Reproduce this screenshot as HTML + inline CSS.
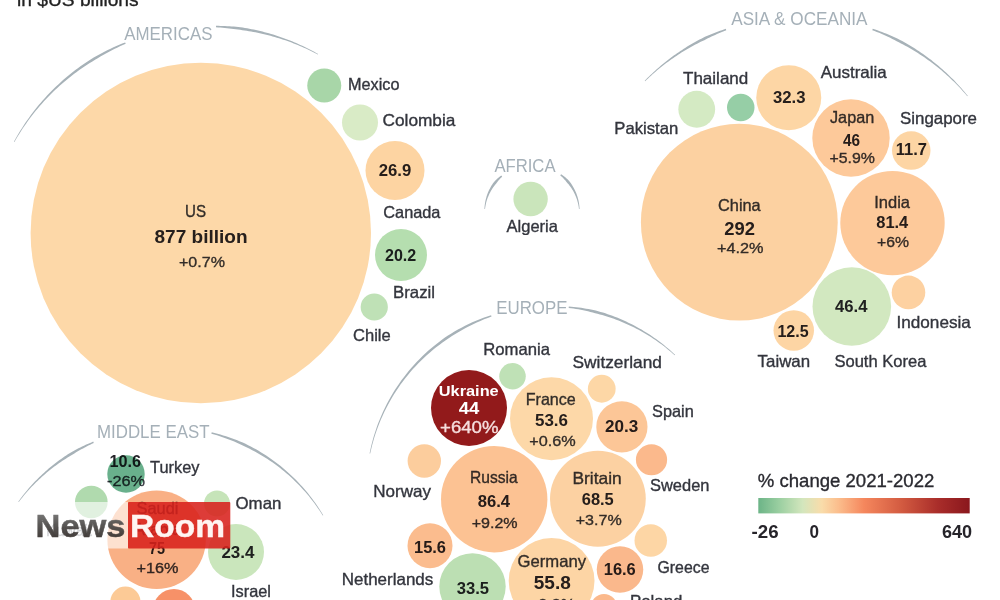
<!DOCTYPE html>
<html><head><meta charset="utf-8"><title>Military spending</title>
<style>
html,body{margin:0;padding:0;background:#fff;}
body{width:1000px;height:600px;overflow:hidden;font-family:"Liberation Sans",sans-serif;}
svg{display:block;font-family:"Liberation Sans",sans-serif;}
</style></head><body>
<svg width="1000" height="600" viewBox="0 0 1000 600" style="filter:blur(0.45px)">
<defs>
<linearGradient id="lg" x1="0" x2="1" y1="0" y2="0">
<stop offset="0" stop-color="#6cb487"/>
<stop offset="0.10" stop-color="#9bcfa1"/>
<stop offset="0.21" stop-color="#d3e6bd"/>
<stop offset="0.30" stop-color="#f9dcaa"/>
<stop offset="0.38" stop-color="#fbbd8c"/>
<stop offset="0.50" stop-color="#f5875d"/>
<stop offset="0.68" stop-color="#d25a40"/>
<stop offset="0.85" stop-color="#a92d2a"/>
<stop offset="1" stop-color="#8a171d"/>
</linearGradient>
<linearGradient id="ng" x1="0" x2="0" y1="0" y2="1">
<stop offset="0" stop-color="#7a7a7a"/>
<stop offset="0.45" stop-color="#4a4846"/>
<stop offset="1" stop-color="#241c19"/>
</linearGradient>
</defs>
<rect width="1000" height="600" fill="#ffffff"/>

<g fill="#a7b2b8">
<path d="M125.15 42.40L122.20 43.57L119.27 44.79L116.35 46.04L113.46 47.34L110.58 48.67L107.72 50.05L104.87 51.47L102.05 52.93L99.25 54.43L96.47 55.97L93.71 57.55L90.97 59.17L88.30 60.89L85.65 62.65L83.03 64.45L80.44 66.29L77.87 68.16L75.33 70.06L72.81 72.01L70.32 73.98L67.87 75.99L65.44 78.04L63.04 80.12L60.67 82.23L58.33 84.38L56.02 86.56L53.74 88.77L51.50 91.01L49.28 93.29L47.10 95.59L44.96 97.93L42.84 100.29L40.76 102.69L38.72 105.11L36.70 107.56L34.73 110.04L32.79 112.54L30.88 115.08L29.01 117.64L27.18 120.22L25.39 122.83L23.63 125.47L21.91 128.13L20.22 130.81L18.58 133.52L16.97 136.24L15.41 138.99L13.88 141.77L14.40 142.05L15.97 139.32L17.59 136.61L19.24 133.92L20.92 131.25L22.65 128.61L24.41 125.99L26.21 123.40L28.05 120.84L29.92 118.30L31.82 115.79L33.76 113.30L35.74 110.85L37.75 108.42L39.79 106.02L41.87 103.65L43.98 101.31L46.12 99.00L48.30 96.73L50.50 94.48L52.74 92.26L55.01 90.08L57.31 87.93L59.64 85.81L62.00 83.73L64.38 81.68L66.80 79.66L69.24 77.68L71.71 75.73L74.21 73.82L76.73 71.95L79.28 70.11L81.86 68.30L84.46 66.54L87.08 64.81L89.73 63.11L92.40 61.46L95.05 59.77L97.73 58.13L100.43 56.52L103.15 54.95L105.90 53.41L108.67 51.92L111.46 50.46L114.27 49.04L117.10 47.67L119.95 46.33L122.82 45.03L125.71 43.77Z"/>
<path d="M216.00 25.84L218.23 25.86L220.47 25.90L222.70 25.96L224.93 26.05L227.16 26.16L229.39 26.29L231.61 26.44L233.84 26.62L236.07 26.82L238.29 27.04L240.52 27.28L242.74 27.54L244.94 27.91L247.14 28.29L249.34 28.70L251.53 29.13L253.72 29.58L255.91 30.06L258.09 30.55L260.26 31.07L262.43 31.61L264.59 32.17L266.75 32.75L268.90 33.35L271.04 33.97L273.18 34.62L275.31 35.28L277.43 35.97L279.55 36.68L281.65 37.41L283.76 38.16L285.85 38.93L287.93 39.72L290.01 40.53L292.08 41.36L294.14 42.21L296.19 43.08L298.23 43.98L300.27 44.89L302.29 45.82L304.30 46.78L306.31 47.75L308.30 48.74L310.28 49.75L312.26 50.78L314.22 51.83L316.17 52.90L318.11 53.99L317.83 54.51L315.86 53.48L313.89 52.46L311.91 51.47L309.91 50.49L307.91 49.54L305.90 48.60L303.88 47.69L301.85 46.79L299.81 45.92L297.77 45.06L295.72 44.23L293.65 43.41L291.58 42.62L289.51 41.85L287.42 41.10L285.33 40.37L283.23 39.66L281.13 38.97L279.02 38.30L276.90 37.65L274.78 37.03L272.65 36.42L270.51 35.84L268.37 35.28L266.23 34.74L264.08 34.22L261.92 33.72L259.76 33.24L257.60 32.79L255.43 32.36L253.26 31.95L251.08 31.56L248.90 31.19L246.72 30.84L244.53 30.52L242.34 30.21L240.16 29.85L237.98 29.51L235.79 29.20L233.60 28.90L231.40 28.63L229.21 28.38L227.01 28.15L224.80 27.94L222.60 27.75L220.39 27.59L218.18 27.44L215.96 27.32Z"/>
<path d="M725.76 28.83L723.84 29.47L721.93 30.13L720.02 30.81L718.12 31.50L716.22 32.22L714.33 32.95L712.45 33.70L710.57 34.46L708.70 35.25L706.84 36.05L704.98 36.87L703.13 37.70L701.32 38.63L699.53 39.57L697.74 40.53L695.96 41.50L694.19 42.49L692.43 43.50L690.68 44.52L688.94 45.56L687.21 46.62L685.49 47.69L683.78 48.78L682.08 49.88L680.39 51.00L678.71 52.13L677.04 53.28L675.39 54.44L673.74 55.62L672.10 56.81L670.48 58.02L668.87 59.24L667.27 60.48L665.68 61.74L664.10 63.00L662.54 64.28L660.98 65.58L659.44 66.89L657.92 68.21L656.40 69.55L654.90 70.90L653.41 72.27L651.93 73.65L650.47 75.04L649.01 76.45L647.58 77.86L646.15 79.30L644.74 80.74L645.16 81.16L646.61 79.76L648.07 78.38L649.54 77.00L651.03 75.65L652.53 74.30L654.04 72.97L655.56 71.66L657.10 70.36L658.64 69.07L660.20 67.80L661.77 66.54L663.35 65.30L664.94 64.07L666.54 62.85L668.16 61.66L669.78 60.47L671.42 59.30L673.06 58.15L674.72 57.02L676.38 55.89L678.06 54.79L679.75 53.70L681.44 52.62L683.15 51.56L684.86 50.52L686.59 49.50L688.32 48.49L690.07 47.49L691.82 46.51L693.58 45.55L695.35 44.61L697.12 43.68L698.91 42.77L700.70 41.87L702.51 40.99L704.32 40.13L706.10 39.21L707.89 38.31L709.69 37.43L711.50 36.56L713.32 35.71L715.14 34.88L716.98 34.06L718.82 33.26L720.67 32.47L722.52 31.71L724.39 30.96L726.26 30.22Z"/>
<path d="M872.77 28.73L875.10 29.52L877.41 30.33L879.72 31.18L882.02 32.04L884.31 32.94L886.59 33.85L888.86 34.80L891.12 35.77L893.37 36.76L895.61 37.79L897.83 38.83L900.05 39.90L902.21 41.07L904.37 42.26L906.51 43.48L908.63 44.72L910.74 45.98L912.84 47.27L914.92 48.57L916.99 49.91L919.04 51.26L921.07 52.64L923.09 54.04L925.09 55.46L927.08 56.91L929.05 58.38L931.01 59.87L932.94 61.38L934.86 62.91L936.76 64.46L938.65 66.04L940.51 67.63L942.36 69.25L944.19 70.88L946.00 72.54L947.79 74.22L949.56 75.91L951.32 77.63L953.05 79.36L954.76 81.12L956.45 82.89L958.13 84.68L959.78 86.49L961.41 88.32L963.02 90.17L964.61 92.03L966.18 93.91L967.73 95.81L967.27 96.19L965.68 94.33L964.08 92.49L962.45 90.68L960.80 88.87L959.13 87.09L957.44 85.33L955.73 83.59L954.01 81.86L952.26 80.16L950.50 78.48L948.71 76.81L946.91 75.17L945.09 73.54L943.25 71.94L941.40 70.36L939.53 68.80L937.64 67.26L935.73 65.74L933.81 64.25L931.87 62.77L929.91 61.32L927.94 59.89L925.95 58.48L923.95 57.10L921.93 55.74L919.90 54.40L917.85 53.08L915.79 51.79L913.71 50.52L911.62 49.28L909.52 48.05L907.40 46.85L905.27 45.68L903.13 44.53L900.98 43.40L898.81 42.30L896.67 41.15L894.51 40.03L892.34 38.93L890.16 37.85L887.96 36.80L885.76 35.77L883.54 34.77L881.31 33.79L879.07 32.84L876.81 31.91L874.55 31.01L872.28 30.13Z"/>
<path d="M501.23 175.47L500.58 175.96L499.94 176.45L499.31 176.95L498.68 177.47L498.06 178.00L497.45 178.54L496.85 179.08L496.26 179.64L495.68 180.21L495.10 180.79L494.54 181.38L493.98 181.98L493.50 182.64L493.03 183.31L492.57 183.98L492.12 184.66L491.69 185.35L491.26 186.05L490.85 186.75L490.45 187.46L490.06 188.17L489.68 188.89L489.32 189.62L488.97 190.35L488.63 191.08L488.30 191.83L487.99 192.57L487.69 193.32L487.40 194.08L487.13 194.84L486.86 195.61L486.61 196.37L486.38 197.15L486.16 197.92L485.95 198.70L485.75 199.48L485.57 200.26L485.40 201.05L485.24 201.84L485.10 202.63L484.97 203.42L484.85 204.22L484.75 205.01L484.66 205.81L484.58 206.61L484.52 207.40L484.47 208.20L484.43 209.00L485.02 209.05L485.12 208.26L485.22 207.48L485.34 206.70L485.48 205.92L485.62 205.15L485.78 204.38L485.95 203.61L486.14 202.85L486.33 202.09L486.54 201.33L486.76 200.58L487.00 199.83L487.24 199.09L487.50 198.35L487.77 197.61L488.06 196.89L488.35 196.16L488.66 195.44L488.98 194.73L489.31 194.03L489.65 193.33L490.00 192.63L490.37 191.94L490.74 191.26L491.13 190.59L491.53 189.92L491.94 189.26L492.36 188.61L492.79 187.96L493.23 187.33L493.68 186.70L494.14 186.07L494.62 185.46L495.10 184.86L495.59 184.26L496.09 183.67L496.54 183.04L497.00 182.42L497.47 181.80L497.95 181.20L498.44 180.60L498.95 180.00L499.46 179.42L499.98 178.84L500.52 178.27L501.06 177.71L501.62 177.16L502.18 176.62Z"/>
<path d="M561.16 174.19L561.86 174.67L562.55 175.16L563.24 175.67L563.92 176.19L564.59 176.72L565.25 177.26L565.90 177.82L566.54 178.38L567.17 178.96L567.79 179.55L568.41 180.16L569.01 180.77L569.54 181.45L570.06 182.13L570.57 182.82L571.06 183.53L571.54 184.24L572.01 184.95L572.46 185.68L572.90 186.41L573.33 187.15L573.75 187.90L574.15 188.65L574.54 189.41L574.91 190.18L575.27 190.95L575.62 191.73L575.95 192.51L576.27 193.30L576.57 194.10L576.86 194.90L577.14 195.70L577.40 196.51L577.65 197.32L577.88 198.14L578.10 198.95L578.30 199.78L578.49 200.60L578.67 201.43L578.82 202.26L578.97 203.09L579.10 203.93L579.21 204.76L579.31 205.60L579.40 206.44L579.47 207.28L579.52 208.12L579.57 208.96L578.97 209.00L578.87 208.18L578.76 207.36L578.64 206.54L578.49 205.72L578.34 204.91L578.17 204.10L577.98 203.29L577.79 202.49L577.57 201.69L577.35 200.89L577.11 200.10L576.86 199.32L576.59 198.54L576.31 197.77L576.01 197.00L575.71 196.23L575.39 195.48L575.05 194.73L574.71 193.98L574.35 193.24L573.97 192.51L573.59 191.79L573.19 191.07L572.78 190.37L572.36 189.66L571.93 188.97L571.48 188.29L571.02 187.61L570.55 186.94L570.07 186.28L569.58 185.64L569.08 184.99L568.57 184.36L568.04 183.74L567.51 183.13L566.96 182.53L566.46 181.88L565.96 181.25L565.44 180.62L564.91 180.00L564.36 179.39L563.81 178.78L563.25 178.19L562.67 177.61L562.08 177.03L561.49 176.47L560.88 175.92L560.26 175.37Z"/>
<path d="M491.08 315.15L487.27 316.42L483.48 317.79L479.73 319.23L476.00 320.76L472.31 322.36L468.66 324.05L465.04 325.82L461.46 327.66L457.92 329.59L454.42 331.59L450.97 333.67L447.56 335.82L444.24 338.11L440.97 340.48L437.76 342.91L434.60 345.41L431.50 347.98L428.45 350.62L425.46 353.32L422.54 356.09L419.67 358.92L416.87 361.81L414.13 364.76L411.45 367.77L408.85 370.84L406.31 373.96L403.83 377.13L401.43 380.36L399.10 383.64L396.85 386.97L394.66 390.34L392.55 393.77L390.52 397.23L388.56 400.74L386.68 404.29L384.88 407.89L383.15 411.51L381.51 415.18L379.94 418.88L378.46 422.61L377.06 426.37L375.74 430.16L374.51 433.98L373.35 437.82L372.29 441.69L371.30 445.58L370.41 449.49L369.59 453.42L370.17 453.54L371.04 449.63L371.99 445.75L373.03 441.89L374.15 438.06L375.35 434.25L376.64 430.47L378.00 426.72L379.45 423.00L380.98 419.31L382.59 415.66L384.27 412.04L386.04 408.46L387.88 404.92L389.80 401.43L391.79 397.97L393.86 394.56L396.00 391.20L398.21 387.89L400.50 384.62L402.85 381.41L405.28 378.25L407.77 375.14L410.33 372.09L412.95 369.09L415.64 366.15L418.39 363.28L421.20 360.46L424.08 357.71L427.01 355.02L430.00 352.39L433.04 349.83L436.14 347.34L439.29 344.92L442.50 342.56L445.75 340.28L449.05 338.07L452.36 335.86L455.71 333.73L459.11 331.67L462.56 329.68L466.05 327.77L469.58 325.93L473.15 324.17L476.76 322.49L480.41 320.88L484.09 319.36L487.80 317.92L491.55 316.55Z"/>
<path d="M568.81 306.41L571.28 306.63L573.75 306.88L576.22 307.16L578.68 307.48L581.14 307.83L583.59 308.21L586.04 308.63L588.49 309.08L590.92 309.56L593.36 310.08L595.78 310.62L598.20 311.20L600.59 311.89L602.97 312.62L605.34 313.37L607.70 314.16L610.05 314.97L612.39 315.82L614.71 316.70L617.03 317.61L619.33 318.55L621.61 319.53L623.88 320.53L626.14 321.56L628.39 322.63L630.62 323.72L632.83 324.84L635.03 325.99L637.21 327.17L639.38 328.38L641.53 329.62L643.66 330.89L645.78 332.19L647.87 333.51L649.95 334.86L652.01 336.24L654.05 337.65L656.07 339.08L658.07 340.54L660.05 342.03L662.02 343.54L663.96 345.08L665.88 346.65L667.77 348.24L669.65 349.85L671.50 351.49L673.33 353.16L675.14 354.85L674.74 355.28L672.90 353.64L671.03 352.03L669.15 350.44L667.24 348.88L665.32 347.34L663.37 345.83L661.41 344.34L659.42 342.88L657.42 341.45L655.39 340.05L653.35 338.67L651.29 337.32L649.22 336.00L647.12 334.71L645.01 333.45L642.89 332.21L640.74 331.00L638.58 329.83L636.41 328.68L634.22 327.56L632.02 326.47L629.80 325.41L627.57 324.38L625.32 323.38L623.06 322.41L620.79 321.48L618.51 320.57L616.22 319.69L613.91 318.85L611.60 318.03L609.27 317.25L606.94 316.50L604.59 315.78L602.24 315.09L599.87 314.44L597.50 313.81L595.14 313.14L592.77 312.50L590.40 311.90L588.01 311.32L585.61 310.78L583.21 310.27L580.80 309.79L578.39 309.34L575.96 308.93L573.53 308.55L571.10 308.20L568.66 307.89Z"/>
<path d="M93.21 441.62L91.33 442.39L89.47 443.17L87.61 443.98L85.76 444.81L83.92 445.66L82.09 446.52L80.27 447.41L78.45 448.32L76.65 449.25L74.86 450.20L73.07 451.17L71.30 452.15L69.58 453.23L67.87 454.33L66.17 455.44L64.49 456.57L62.82 457.72L61.16 458.89L59.51 460.07L57.88 461.28L56.26 462.50L54.66 463.74L53.07 464.99L51.49 466.27L49.93 467.56L48.38 468.87L46.85 470.19L45.33 471.53L43.83 472.89L42.34 474.26L40.87 475.65L39.41 477.05L37.97 478.47L36.54 479.91L35.13 481.36L33.74 482.83L32.37 484.31L31.01 485.81L29.66 487.32L28.34 488.84L27.03 490.38L25.73 491.94L24.46 493.50L23.20 495.09L21.96 496.68L20.74 498.29L19.54 499.91L18.35 501.54L18.83 501.90L20.06 500.30L21.30 498.72L22.57 497.16L23.85 495.61L25.14 494.07L26.46 492.55L27.79 491.04L29.13 489.55L30.49 488.07L31.87 486.61L33.26 485.16L34.67 483.73L36.10 482.31L37.54 480.92L38.99 479.53L40.46 478.16L41.95 476.81L43.45 475.48L44.96 474.16L46.49 472.86L48.03 471.58L49.58 470.31L51.15 469.06L52.73 467.83L54.33 466.62L55.93 465.42L57.56 464.25L59.19 463.09L60.83 461.94L62.49 460.82L64.16 459.72L65.84 458.63L67.54 457.56L69.24 456.51L70.96 455.48L72.68 454.47L74.38 453.41L76.09 452.37L77.81 451.35L79.54 450.34L81.29 449.35L83.04 448.39L84.81 447.44L86.59 446.51L88.37 445.60L90.17 444.71L91.98 443.84L93.80 442.99Z"/>
<path d="M211.71 432.26L214.60 432.97L217.48 433.73L220.35 434.53L223.20 435.38L226.04 436.27L228.87 437.21L231.68 438.20L234.47 439.23L237.25 440.31L240.01 441.43L242.76 442.60L245.49 443.81L248.16 445.13L250.81 446.50L253.43 447.91L256.04 449.37L258.62 450.86L261.17 452.40L263.70 453.98L266.20 455.60L268.68 457.25L271.13 458.95L273.55 460.69L275.94 462.46L278.30 464.27L280.63 466.12L282.94 468.01L285.21 469.93L287.45 471.89L289.65 473.89L291.83 475.92L293.97 477.99L296.07 480.08L298.15 482.22L300.18 484.38L302.18 486.58L304.15 488.81L306.08 491.07L307.97 493.36L309.83 495.68L311.64 498.03L313.42 500.41L315.16 502.81L316.86 505.25L318.52 507.71L320.14 510.19L321.72 512.71L323.26 515.24L322.75 515.55L321.17 513.05L319.55 510.58L317.88 508.14L316.18 505.72L314.44 503.33L312.67 500.97L310.85 498.64L309.00 496.34L307.11 494.07L305.18 491.84L303.22 489.63L301.23 487.45L299.20 485.31L297.13 483.20L295.04 481.13L292.91 479.09L290.74 477.08L288.55 475.11L286.32 473.18L284.07 471.28L281.78 469.42L279.47 467.60L277.12 465.81L274.75 464.07L272.35 462.36L269.93 460.69L267.47 459.06L264.99 457.47L262.49 455.92L259.96 454.42L257.41 452.95L254.84 451.52L252.24 450.14L249.63 448.80L246.99 447.50L244.33 446.25L241.68 444.96L239.02 443.72L236.33 442.52L233.62 441.36L230.90 440.25L228.15 439.18L225.39 438.16L222.62 437.18L219.82 436.24L217.01 435.35L214.19 434.50L211.35 433.70Z"/>
</g>
<g>
<circle cx="200.80" cy="233.00" r="170.20" fill="#fdd8a8"/>
<circle cx="324.25" cy="85.50" r="17.00" fill="#a8d6a8"/>
<circle cx="360.00" cy="122.50" r="18.00" fill="#d9ebc6"/>
<circle cx="395.00" cy="170.50" r="29.50" fill="#fdd4a2"/>
<circle cx="401.00" cy="255.00" r="26.00" fill="#b5deaf"/>
<circle cx="374.25" cy="307.00" r="13.60" fill="#bfe1b6"/>
<circle cx="530.60" cy="199.00" r="17.20" fill="#cae5bb"/>
<circle cx="739.30" cy="222.20" r="98.40" fill="#fcd1a1"/>
<circle cx="696.75" cy="109.25" r="18.40" fill="#d4eac3"/>
<circle cx="740.75" cy="107.50" r="13.75" fill="#96cea6"/>
<circle cx="788.75" cy="97.75" r="32.50" fill="#fdd6a5"/>
<circle cx="851.00" cy="138.00" r="38.70" fill="#fdc99a"/>
<circle cx="911.25" cy="150.60" r="19.25" fill="#fdd5a4"/>
<circle cx="892.50" cy="223.10" r="52.20" fill="#fdc99a"/>
<circle cx="851.80" cy="306.50" r="39.30" fill="#d2e8c0"/>
<circle cx="908.50" cy="292.40" r="16.80" fill="#fdd1a1"/>
<circle cx="793.75" cy="330.50" r="20.25" fill="#fdd5a4"/>
<circle cx="494.20" cy="499.20" r="53.20" fill="#fcc293"/>
<circle cx="469.00" cy="408.00" r="38.00" fill="#921a1b"/>
<circle cx="512.50" cy="376.25" r="13.25" fill="#bfe1b6"/>
<circle cx="551.50" cy="418.75" r="41.50" fill="#fdd8a8"/>
<circle cx="601.75" cy="388.75" r="13.90" fill="#fdd7a6"/>
<circle cx="621.90" cy="426.90" r="25.60" fill="#fcc697"/>
<circle cx="651.50" cy="459.75" r="15.60" fill="#fbb98c"/>
<circle cx="597.90" cy="498.75" r="47.90" fill="#fcd1a2"/>
<circle cx="650.75" cy="540.50" r="16.25" fill="#fdd6a5"/>
<circle cx="620.00" cy="569.60" r="23.25" fill="#fab88c"/>
<circle cx="551.60" cy="580.90" r="42.90" fill="#fdd5a5"/>
<circle cx="604.00" cy="607.00" r="13.00" fill="#fbb98c"/>
<circle cx="424.30" cy="461.00" r="16.70" fill="#fccd9d"/>
<circle cx="430.00" cy="545.70" r="22.50" fill="#fbbc8e"/>
<circle cx="472.50" cy="586.50" r="33.20" fill="#bcdfb3"/>
<circle cx="156.60" cy="539.70" r="49.20" fill="#f9b085"/>
<circle cx="126.00" cy="474.00" r="18.70" fill="#69b08c"/>
<circle cx="91.30" cy="502.00" r="16.30" fill="#b0daae"/>
<circle cx="217.00" cy="503.50" r="13.00" fill="#c6e4b9"/>
<circle cx="236.00" cy="552.00" r="28.00" fill="#cae6bc"/>
<circle cx="125.40" cy="601.50" r="15.00" fill="#fcca96"/>
<circle cx="174.00" cy="610.00" r="21.00" fill="#f79168"/>
</g>
<g>
<text x="17.00" y="5.60" font-size="19.00" font-weight="400" fill="#222" stroke="#222" stroke-width="0.35" textLength="121.63" lengthAdjust="spacingAndGlyphs" style="mix-blend-mode:multiply">in $US billions</text>
<text x="124.25" y="40.00" font-size="18.50" font-weight="400" fill="#a5b0b8" stroke="#a5b0b8" stroke-width="0" textLength="88.22" lengthAdjust="spacingAndGlyphs" style="mix-blend-mode:multiply">AMERICAS</text>
<text x="494.40" y="171.60" font-size="18.50" font-weight="400" fill="#a5b0b8" stroke="#a5b0b8" stroke-width="0" textLength="61.15" lengthAdjust="spacingAndGlyphs" style="mix-blend-mode:multiply">AFRICA</text>
<text x="731.25" y="25.00" font-size="18.50" font-weight="400" fill="#a5b0b8" stroke="#a5b0b8" stroke-width="0" textLength="136.21" lengthAdjust="spacingAndGlyphs" style="mix-blend-mode:multiply">ASIA &amp; OCEANIA</text>
<text x="496.25" y="314.00" font-size="18.50" font-weight="400" fill="#a5b0b8" stroke="#a5b0b8" stroke-width="0" textLength="71.22" lengthAdjust="spacingAndGlyphs" style="mix-blend-mode:multiply">EUROPE</text>
<text x="97.00" y="438.00" font-size="18.50" font-weight="400" fill="#a5b0b8" stroke="#a5b0b8" stroke-width="0" textLength="112.47" lengthAdjust="spacingAndGlyphs" style="mix-blend-mode:multiply">MIDDLE EAST</text>
<text x="348.00" y="90.00" font-size="16.50" font-weight="400" fill="#33353d" stroke="#33353d" stroke-width="0.35" textLength="51.46" lengthAdjust="spacingAndGlyphs" style="mix-blend-mode:multiply">Mexico</text>
<text x="382.50" y="125.75" font-size="16.50" font-weight="400" fill="#33353d" stroke="#33353d" stroke-width="0.35" textLength="72.90" lengthAdjust="spacingAndGlyphs" style="mix-blend-mode:multiply">Colombia</text>
<text x="383.25" y="217.50" font-size="16.50" font-weight="400" fill="#33353d" stroke="#33353d" stroke-width="0.35" textLength="57.22" lengthAdjust="spacingAndGlyphs" style="mix-blend-mode:multiply">Canada</text>
<text x="393.00" y="298.00" font-size="16.50" font-weight="400" fill="#33353d" stroke="#33353d" stroke-width="0.35" textLength="42.01" lengthAdjust="spacingAndGlyphs" style="mix-blend-mode:multiply">Brazil</text>
<text x="353.00" y="341.00" font-size="16.50" font-weight="400" fill="#33353d" stroke="#33353d" stroke-width="0.35" textLength="37.73" lengthAdjust="spacingAndGlyphs" style="mix-blend-mode:multiply">Chile</text>
<text x="185.00" y="217.00" font-size="16.50" font-weight="400" fill="#33353d" stroke="#33353d" stroke-width="0.35" textLength="20.99" lengthAdjust="spacingAndGlyphs" style="mix-blend-mode:multiply">US</text>
<text x="154.50" y="242.50" font-size="18.00" font-weight="700" fill="#26242a" stroke="#26242a" stroke-width="0" textLength="93.00" lengthAdjust="spacingAndGlyphs" style="mix-blend-mode:multiply">877 billion</text>
<text x="179.00" y="267.00" font-size="15.50" font-weight="400" fill="#33353d" stroke="#33353d" stroke-width="0.35" textLength="45.97" lengthAdjust="spacingAndGlyphs" style="mix-blend-mode:multiply">+0.7%</text>
<text x="378.75" y="175.75" font-size="16.50" font-weight="700" fill="#26242a" stroke="#26242a" stroke-width="0" textLength="32.52" lengthAdjust="spacingAndGlyphs" style="mix-blend-mode:multiply">26.9</text>
<text x="385.00" y="260.75" font-size="16.50" font-weight="700" fill="#26242a" stroke="#26242a" stroke-width="0" textLength="31.27" lengthAdjust="spacingAndGlyphs" style="mix-blend-mode:multiply">20.2</text>
<text x="506.60" y="231.60" font-size="16.50" font-weight="400" fill="#33353d" stroke="#33353d" stroke-width="0.35" textLength="51.37" lengthAdjust="spacingAndGlyphs" style="mix-blend-mode:multiply">Algeria</text>
<text x="683.00" y="83.75" font-size="16.50" font-weight="400" fill="#33353d" stroke="#33353d" stroke-width="0.35" textLength="65.27" lengthAdjust="spacingAndGlyphs" style="mix-blend-mode:multiply">Thailand</text>
<text x="614.25" y="134.25" font-size="16.50" font-weight="400" fill="#33353d" stroke="#33353d" stroke-width="0.35" textLength="64.01" lengthAdjust="spacingAndGlyphs" style="mix-blend-mode:multiply">Pakistan</text>
<text x="820.75" y="77.50" font-size="16.50" font-weight="400" fill="#33353d" stroke="#33353d" stroke-width="0.35" textLength="65.93" lengthAdjust="spacingAndGlyphs" style="mix-blend-mode:multiply">Australia</text>
<text x="830.00" y="123.00" font-size="16.50" font-weight="400" fill="#33353d" stroke="#33353d" stroke-width="0.35" textLength="44.24" lengthAdjust="spacingAndGlyphs" style="mix-blend-mode:multiply">Japan</text>
<text x="900.00" y="124.25" font-size="16.50" font-weight="400" fill="#33353d" stroke="#33353d" stroke-width="0.35" textLength="76.99" lengthAdjust="spacingAndGlyphs" style="mix-blend-mode:multiply">Singapore</text>
<text x="829.50" y="163.00" font-size="15.50" font-weight="400" fill="#33353d" stroke="#33353d" stroke-width="0.35" textLength="45.47" lengthAdjust="spacingAndGlyphs" style="mix-blend-mode:multiply">+5.9%</text>
<text x="874.25" y="208.00" font-size="16.50" font-weight="400" fill="#33353d" stroke="#33353d" stroke-width="0.35" textLength="35.73" lengthAdjust="spacingAndGlyphs" style="mix-blend-mode:multiply">India</text>
<text x="877.00" y="247.00" font-size="15.50" font-weight="400" fill="#33353d" stroke="#33353d" stroke-width="0.35" textLength="31.99" lengthAdjust="spacingAndGlyphs" style="mix-blend-mode:multiply">+6%</text>
<text x="718.00" y="210.75" font-size="16.50" font-weight="400" fill="#33353d" stroke="#33353d" stroke-width="0.35" textLength="42.72" lengthAdjust="spacingAndGlyphs" style="mix-blend-mode:multiply">China</text>
<text x="717.00" y="253.40" font-size="15.50" font-weight="400" fill="#33353d" stroke="#33353d" stroke-width="0.35" textLength="46.57" lengthAdjust="spacingAndGlyphs" style="mix-blend-mode:multiply">+4.2%</text>
<text x="896.50" y="327.50" font-size="16.50" font-weight="400" fill="#33353d" stroke="#33353d" stroke-width="0.35" textLength="74.35" lengthAdjust="spacingAndGlyphs" style="mix-blend-mode:multiply">Indonesia</text>
<text x="757.60" y="366.50" font-size="16.50" font-weight="400" fill="#33353d" stroke="#33353d" stroke-width="0.35" textLength="52.46" lengthAdjust="spacingAndGlyphs" style="mix-blend-mode:multiply">Taiwan</text>
<text x="834.40" y="366.50" font-size="16.50" font-weight="400" fill="#33353d" stroke="#33353d" stroke-width="0.35" textLength="92.01" lengthAdjust="spacingAndGlyphs" style="mix-blend-mode:multiply">South Korea</text>
<text x="773.00" y="103.00" font-size="16.50" font-weight="700" fill="#26242a" stroke="#26242a" stroke-width="0" textLength="32.52" lengthAdjust="spacingAndGlyphs" style="mix-blend-mode:multiply">32.3</text>
<text x="843.00" y="145.50" font-size="16.50" font-weight="700" fill="#26242a" stroke="#26242a" stroke-width="0" textLength="17.04" lengthAdjust="spacingAndGlyphs" style="mix-blend-mode:multiply">46</text>
<text x="895.75" y="155.00" font-size="16.50" font-weight="700" fill="#26242a" stroke="#26242a" stroke-width="0" textLength="31.27" lengthAdjust="spacingAndGlyphs" style="mix-blend-mode:multiply">11.7</text>
<text x="876.25" y="227.50" font-size="16.50" font-weight="700" fill="#26242a" stroke="#26242a" stroke-width="0" textLength="32.02" lengthAdjust="spacingAndGlyphs" style="mix-blend-mode:multiply">81.4</text>
<text x="724.25" y="234.50" font-size="17.50" font-weight="700" fill="#26242a" stroke="#26242a" stroke-width="0" textLength="30.72" lengthAdjust="spacingAndGlyphs" style="mix-blend-mode:multiply">292</text>
<text x="835.00" y="311.60" font-size="16.50" font-weight="700" fill="#26242a" stroke="#26242a" stroke-width="0" textLength="32.42" lengthAdjust="spacingAndGlyphs" style="mix-blend-mode:multiply">46.4</text>
<text x="777.40" y="336.50" font-size="16.50" font-weight="700" fill="#26242a" stroke="#26242a" stroke-width="0" textLength="31.22" lengthAdjust="spacingAndGlyphs" style="mix-blend-mode:multiply">12.5</text>
<text x="483.25" y="354.50" font-size="16.50" font-weight="400" fill="#33353d" stroke="#33353d" stroke-width="0.35" textLength="66.70" lengthAdjust="spacingAndGlyphs" style="mix-blend-mode:multiply">Romania</text>
<text x="572.50" y="367.50" font-size="16.50" font-weight="400" fill="#33353d" stroke="#33353d" stroke-width="0.35" textLength="89.49" lengthAdjust="spacingAndGlyphs" style="mix-blend-mode:multiply">Switzerland</text>
<text x="525.75" y="404.50" font-size="16.50" font-weight="400" fill="#33353d" stroke="#33353d" stroke-width="0.35" textLength="50.04" lengthAdjust="spacingAndGlyphs" style="mix-blend-mode:multiply">France</text>
<text x="529.25" y="445.50" font-size="15.50" font-weight="400" fill="#33353d" stroke="#33353d" stroke-width="0.35" textLength="46.47" lengthAdjust="spacingAndGlyphs" style="mix-blend-mode:multiply">+0.6%</text>
<text x="652.00" y="416.75" font-size="16.50" font-weight="400" fill="#33353d" stroke="#33353d" stroke-width="0.35" textLength="41.71" lengthAdjust="spacingAndGlyphs" style="mix-blend-mode:multiply">Spain</text>
<text x="650.00" y="490.75" font-size="16.50" font-weight="400" fill="#33353d" stroke="#33353d" stroke-width="0.35" textLength="59.48" lengthAdjust="spacingAndGlyphs" style="mix-blend-mode:multiply">Sweden</text>
<text x="572.50" y="483.75" font-size="16.50" font-weight="400" fill="#33353d" stroke="#33353d" stroke-width="0.35" textLength="49.24" lengthAdjust="spacingAndGlyphs" style="mix-blend-mode:multiply">Britain</text>
<text x="575.75" y="525.00" font-size="15.50" font-weight="400" fill="#33353d" stroke="#33353d" stroke-width="0.35" textLength="45.97" lengthAdjust="spacingAndGlyphs" style="mix-blend-mode:multiply">+3.7%</text>
<text x="657.50" y="572.50" font-size="16.50" font-weight="400" fill="#33353d" stroke="#33353d" stroke-width="0.35" textLength="51.99" lengthAdjust="spacingAndGlyphs" style="mix-blend-mode:multiply">Greece</text>
<text x="517.50" y="567.00" font-size="16.50" font-weight="400" fill="#33353d" stroke="#33353d" stroke-width="0.35" textLength="68.54" lengthAdjust="spacingAndGlyphs" style="mix-blend-mode:multiply">Germany</text>
<text x="630.00" y="607.00" font-size="16.50" font-weight="400" fill="#33353d" stroke="#33353d" stroke-width="0.35" textLength="52.48" lengthAdjust="spacingAndGlyphs" style="mix-blend-mode:multiply">Poland</text>
<text x="529.00" y="608.50" font-size="15.50" font-weight="400" fill="#33353d" stroke="#33353d" stroke-width="0.35" textLength="45.97" lengthAdjust="spacingAndGlyphs" style="mix-blend-mode:multiply">+2.3%</text>
<text x="470.00" y="483.30" font-size="16.50" font-weight="400" fill="#33353d" stroke="#33353d" stroke-width="0.35" textLength="47.65" lengthAdjust="spacingAndGlyphs" style="mix-blend-mode:multiply">Russia</text>
<text x="471.70" y="527.70" font-size="15.50" font-weight="400" fill="#33353d" stroke="#33353d" stroke-width="0.35" textLength="45.97" lengthAdjust="spacingAndGlyphs" style="mix-blend-mode:multiply">+9.2%</text>
<text x="373.30" y="496.70" font-size="16.50" font-weight="400" fill="#33353d" stroke="#33353d" stroke-width="0.35" textLength="57.70" lengthAdjust="spacingAndGlyphs" style="mix-blend-mode:multiply">Norway</text>
<text x="341.70" y="585.00" font-size="16.50" font-weight="400" fill="#33353d" stroke="#33353d" stroke-width="0.35" textLength="91.64" lengthAdjust="spacingAndGlyphs" style="mix-blend-mode:multiply">Netherlands</text>
<text x="438.75" y="396.25" font-size="15.50" font-weight="700" fill="#fff" stroke="#fff" stroke-width="0" textLength="59.98" lengthAdjust="spacingAndGlyphs">Ukraine</text>
<text x="458.75" y="413.75" font-size="16.50" font-weight="700" fill="#fff" stroke="#fff" stroke-width="0" textLength="20.54" lengthAdjust="spacingAndGlyphs">44</text>
<text x="440.00" y="433.30" font-size="17.00" font-weight="400" fill="#f6dede" stroke="#f6dede" stroke-width="0.35" textLength="58.53" lengthAdjust="spacingAndGlyphs">+640%</text>
<text x="535.00" y="425.75" font-size="16.50" font-weight="700" fill="#26242a" stroke="#26242a" stroke-width="0" textLength="33.02" lengthAdjust="spacingAndGlyphs" style="mix-blend-mode:multiply">53.6</text>
<text x="605.00" y="431.75" font-size="16.50" font-weight="700" fill="#26242a" stroke="#26242a" stroke-width="0" textLength="33.27" lengthAdjust="spacingAndGlyphs" style="mix-blend-mode:multiply">20.3</text>
<text x="581.75" y="505.00" font-size="16.50" font-weight="700" fill="#26242a" stroke="#26242a" stroke-width="0" textLength="32.02" lengthAdjust="spacingAndGlyphs" style="mix-blend-mode:multiply">68.5</text>
<text x="603.75" y="575.00" font-size="16.50" font-weight="700" fill="#26242a" stroke="#26242a" stroke-width="0" textLength="32.02" lengthAdjust="spacingAndGlyphs" style="mix-blend-mode:multiply">16.6</text>
<text x="533.75" y="589.25" font-size="18.00" font-weight="700" fill="#26242a" stroke="#26242a" stroke-width="0" textLength="37.03" lengthAdjust="spacingAndGlyphs" style="mix-blend-mode:multiply">55.8</text>
<text x="477.70" y="506.70" font-size="16.50" font-weight="700" fill="#26242a" stroke="#26242a" stroke-width="0" textLength="32.32" lengthAdjust="spacingAndGlyphs" style="mix-blend-mode:multiply">86.4</text>
<text x="414.00" y="553.30" font-size="16.50" font-weight="700" fill="#26242a" stroke="#26242a" stroke-width="0" textLength="32.02" lengthAdjust="spacingAndGlyphs" style="mix-blend-mode:multiply">15.6</text>
<text x="456.70" y="594.30" font-size="16.50" font-weight="700" fill="#26242a" stroke="#26242a" stroke-width="0" textLength="32.32" lengthAdjust="spacingAndGlyphs" style="mix-blend-mode:multiply">33.5</text>
<text x="150.00" y="472.50" font-size="16.50" font-weight="400" fill="#33353d" stroke="#33353d" stroke-width="0.35" textLength="49.49" lengthAdjust="spacingAndGlyphs" style="mix-blend-mode:multiply">Turkey</text>
<text x="235.50" y="509.00" font-size="16.50" font-weight="400" fill="#33353d" stroke="#33353d" stroke-width="0.35" textLength="45.87" lengthAdjust="spacingAndGlyphs" style="mix-blend-mode:multiply">Oman</text>
<text x="231.00" y="597.00" font-size="16.50" font-weight="400" fill="#33353d" stroke="#33353d" stroke-width="0.35" textLength="40.01" lengthAdjust="spacingAndGlyphs" style="mix-blend-mode:multiply">Israel</text>
<text x="107.00" y="486.00" font-size="15.50" font-weight="400" fill="#33353d" stroke="#33353d" stroke-width="0.35" textLength="37.99" lengthAdjust="spacingAndGlyphs" style="mix-blend-mode:multiply">-26%</text>
<text x="136.50" y="573.00" font-size="15.50" font-weight="400" fill="#33353d" stroke="#33353d" stroke-width="0.35" textLength="42.01" lengthAdjust="spacingAndGlyphs" style="mix-blend-mode:multiply">+16%</text>
<text x="136.50" y="513.60" font-size="16.50" font-weight="400" fill="#33353d" stroke="#33353d" stroke-width="0.35" textLength="41.96" lengthAdjust="spacingAndGlyphs" style="mix-blend-mode:multiply">Saudi</text>
<text x="134.00" y="535.00" font-size="16.50" font-weight="400" fill="#33353d" stroke="#33353d" stroke-width="0.35" textLength="46.93" lengthAdjust="spacingAndGlyphs" style="mix-blend-mode:multiply">Arabia</text>
<text x="46.00" y="536.00" font-size="16.50" font-weight="400" fill="#8d9096" stroke="#8d9096" stroke-width="0.35" textLength="46.02" lengthAdjust="spacingAndGlyphs" style="mix-blend-mode:multiply">Kuwait</text>
<text x="109.50" y="467.40" font-size="16.50" font-weight="700" fill="#26242a" stroke="#26242a" stroke-width="0" textLength="31.52" lengthAdjust="spacingAndGlyphs" style="mix-blend-mode:multiply">10.6</text>
<text x="149.00" y="554.00" font-size="16.50" font-weight="700" fill="#26242a" stroke="#26242a" stroke-width="0" textLength="16.03" lengthAdjust="spacingAndGlyphs" style="mix-blend-mode:multiply">75</text>
<text x="221.40" y="558.00" font-size="16.50" font-weight="700" fill="#26242a" stroke="#26242a" stroke-width="0" textLength="33.02" lengthAdjust="spacingAndGlyphs" style="mix-blend-mode:multiply">23.4</text>
<text x="757.80" y="486.80" font-size="19.00" font-weight="400" fill="#2a2a30" stroke="#2a2a30" stroke-width="0.35" textLength="176.56" lengthAdjust="spacingAndGlyphs" style="mix-blend-mode:multiply">% change 2021-2022</text>
<text x="751.60" y="537.50" font-size="18.00" font-weight="700" fill="#26242a" stroke="#26242a" stroke-width="0" textLength="27.01" lengthAdjust="spacingAndGlyphs" style="mix-blend-mode:multiply">-26</text>
<text x="809.60" y="537.50" font-size="18.00" font-weight="700" fill="#26242a" stroke="#26242a" stroke-width="0" textLength="9.52" lengthAdjust="spacingAndGlyphs" style="mix-blend-mode:multiply">0</text>
<text x="942.00" y="537.50" font-size="18.00" font-weight="700" fill="#26242a" stroke="#26242a" stroke-width="0" textLength="30.17" lengthAdjust="spacingAndGlyphs" style="mix-blend-mode:multiply">640</text>
</g>
<rect x="758.3" y="498" width="211.4" height="15.4" fill="url(#lg)"/>
<rect x="34" y="502" width="94" height="46.5" fill="#ffffff" fill-opacity="0.62"/>
<rect x="128" y="502" width="102.3" height="46.5" fill="#d8211d" fill-opacity="0.88" rx="1"/>
<text x="35.5" y="537" font-size="32" font-weight="700" fill="url(#ng)" stroke="url(#ng)" stroke-width="0.5" opacity="0.9" textLength="90" lengthAdjust="spacingAndGlyphs">News</text>
<text x="130" y="537.3" font-size="32" font-weight="700" fill="#fff5f2" stroke="#fff5f2" stroke-width="0.4" textLength="95" lengthAdjust="spacingAndGlyphs">Room</text>
</svg></body></html>
